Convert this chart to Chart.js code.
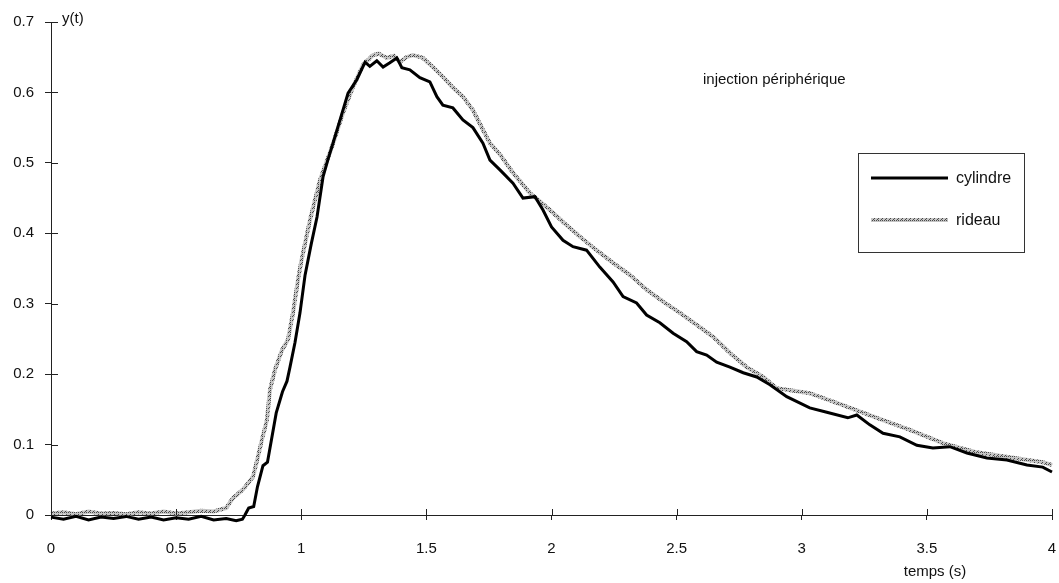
<!DOCTYPE html>
<html lang="fr">
<head>
<meta charset="UTF-8">
<title>injection périphérique</title>
<script src="https://cdn.jsdelivr.net/npm/chart.js"></script>
<style>
  * { margin: 0; padding: 0; }
  body { background: #fff; width: 1059px; height: 583px; overflow: hidden; }
  #wrap { position: relative; width: 1059px; height: 583px; }
</style>
</head>
<body>
<div id="wrap"><canvas id="chart" width="1059" height="583"></canvas></div>
<script>
// valeurs
const tCylindre = [0, 0.05, 0.1, 0.15, 0.2, 0.25, 0.3, 0.35, 0.4, 0.45, 0.5, 0.55, 0.6, 0.65, 0.7, 0.74, 0.765, 0.775, 0.79, 0.81, 0.825, 0.847, 0.865, 0.9, 0.925, 0.943, 0.955, 0.975, 0.995, 1.015, 1.04, 1.063, 1.087, 1.107, 1.127, 1.155, 1.187, 1.222, 1.255, 1.274, 1.302, 1.327, 1.354, 1.382, 1.402, 1.434, 1.474, 1.514, 1.542, 1.566, 1.606, 1.646, 1.686, 1.726, 1.754, 1.794, 1.846, 1.886, 1.934, 1.966, 2.0, 2.046, 2.086, 2.14, 2.193, 2.246, 2.286, 2.34, 2.38, 2.433, 2.486, 2.54, 2.58, 2.62, 2.66, 2.713, 2.766, 2.82, 2.873, 2.94, 3.032, 3.1, 3.184, 3.22, 3.272, 3.325, 3.392, 3.46, 3.524, 3.592, 3.66, 3.74, 3.82, 3.9, 3.963, 4.0];
const vCylindre = [-0.003, -0.006, -0.002, -0.007, -0.003, -0.005, -0.002, -0.006, -0.003, -0.007, -0.004, -0.006, -0.002, -0.007, -0.005, -0.008, -0.006, 0.0, 0.01, 0.012, 0.04, 0.07, 0.075, 0.145, 0.175, 0.19, 0.21, 0.245, 0.287, 0.34, 0.385, 0.423, 0.48, 0.505, 0.528, 0.561, 0.599, 0.618, 0.643, 0.637, 0.645, 0.636, 0.642, 0.649, 0.635, 0.632, 0.621, 0.615, 0.594, 0.582, 0.578, 0.561, 0.55, 0.528, 0.504, 0.49, 0.471, 0.45, 0.452, 0.433, 0.409, 0.39, 0.381, 0.376, 0.352, 0.331, 0.31, 0.301, 0.284, 0.273, 0.258, 0.246, 0.232, 0.227, 0.217, 0.21, 0.202, 0.196, 0.185, 0.168, 0.152, 0.146, 0.138, 0.142, 0.128, 0.116, 0.111, 0.099, 0.095, 0.097, 0.088, 0.081, 0.078, 0.071, 0.068, 0.061];

const tRideau = [0, 0.05, 0.1, 0.15, 0.2, 0.25, 0.3, 0.35, 0.4, 0.45, 0.5, 0.55, 0.6, 0.65, 0.7, 0.727, 0.767, 0.807, 0.825, 0.843, 0.863, 0.875, 0.895, 0.923, 0.947, 0.967, 0.987, 1.0, 1.035, 1.075, 1.123, 1.167, 1.207, 1.247, 1.287, 1.31, 1.342, 1.37, 1.394, 1.42, 1.446, 1.486, 1.526, 1.566, 1.606, 1.646, 1.686, 1.726, 1.754, 1.794, 1.846, 1.914, 1.994, 2.046, 2.114, 2.18, 2.246, 2.313, 2.38, 2.446, 2.513, 2.58, 2.646, 2.713, 2.78, 2.846, 2.9, 3.032, 3.164, 3.3, 3.432, 3.564, 3.7, 3.83, 3.963, 4.0];
const vRideau = [0.002, 0.004, 0.001, 0.005, 0.002, 0.003, 0.001, 0.004, 0.002, 0.005, 0.002, 0.004, 0.006, 0.005, 0.01, 0.024, 0.036, 0.054, 0.08, 0.107, 0.135, 0.178, 0.206, 0.234, 0.249, 0.287, 0.334, 0.36, 0.419, 0.476, 0.523, 0.571, 0.608, 0.639, 0.653, 0.655, 0.649, 0.652, 0.643, 0.65, 0.653, 0.649, 0.636, 0.622, 0.607, 0.594, 0.575, 0.547, 0.528, 0.512, 0.486, 0.457, 0.433, 0.416, 0.395, 0.376, 0.358, 0.341, 0.32, 0.303, 0.287, 0.27, 0.253, 0.23, 0.21, 0.196, 0.18, 0.173, 0.156, 0.138, 0.121, 0.102, 0.089, 0.082, 0.075, 0.071];

const xTicks = [0, 0.5, 1, 1.5, 2, 2.5, 3, 3.5, 4];
const yTicks = [0, 0.1, 0.2, 0.3, 0.4, 0.5, 0.6, 0.7];
const seriesLabels = ['cylindre', 'rideau'];

const FONT = '"Liberation Sans", Arial, sans-serif';

// motif gris tramé pour la courbe "rideau"
function makeHatch(ctx) {
  const c = document.createElement('canvas');
  c.width = 4; c.height = 4;
  const g = c.getContext('2d');
  g.fillStyle = '#c4c4c4';
  g.fillRect(0, 0, 4, 4);
  g.fillStyle = '#4a4a4a';
  g.fillRect(0, 0, 1, 1); g.fillRect(2, 2, 1, 1);
  g.fillRect(2, 0, 1, 1); g.fillRect(1, 3, 1, 1);
  return ctx.createPattern(c, 'repeat');
}

const canvas = document.getElementById('chart');
const ctx = canvas.getContext('2d');
const hatch = makeHatch(ctx);

const toPts = (ts, vs) => ts.map((t, i) => ({ x: t, y: vs[i] }));

// traits des graduations à l'intérieur + textes + légende
const extras = {
  id: 'extras',
  afterDraw(chart) {
    const c = chart.ctx;
    const xs = chart.scales.x, ys = chart.scales.y;
    c.save();
    c.strokeStyle = '#222';
    c.lineWidth = 1;
    c.beginPath();
    yTicks.forEach(v => {
      const py = Math.round(ys.getPixelForValue(v)) + 0.5;
      c.moveTo(xs.left, py); c.lineTo(xs.left + 7, py);
    });
    xTicks.forEach(v => {
      const px = Math.round(xs.getPixelForValue(v)) + 0.5;
      c.moveTo(px, ys.bottom); c.lineTo(px, ys.bottom - 6);
    });
    c.stroke();

    c.fillStyle = '#111';
    c.textBaseline = 'middle';
    c.font = '15px ' + FONT;
    c.textAlign = 'left';
    c.fillText('y(t)', 62, 19);
    c.fillText('injection périphérique', 703, 80);
    c.textAlign = 'center';
    c.fillText('temps (s)', 935, 572);

    // légende
    c.strokeStyle = '#333';
    c.lineWidth = 1;
    c.strokeRect(858.5, 153.5, 166, 99);
    const rows = [178, 220];
    chart.data.datasets.forEach((ds, i) => {
      c.strokeStyle = ds.borderColor;
      c.lineWidth = ds.borderWidth;
      c.beginPath();
      c.moveTo(871, rows[i]); c.lineTo(948, rows[i]);
      c.stroke();
      c.fillStyle = '#111';
      c.textAlign = 'left';
      c.font = '16px ' + FONT;
      c.fillText(ds.label, 956, rows[i] + 1);
    });
    c.restore();
  }
};

new Chart(ctx, {
  type: 'line',
  data: {
    datasets: [
      {
        label: seriesLabels[0],
        data: toPts(tCylindre, vCylindre),
        borderColor: '#000',
        borderWidth: 3,
        pointRadius: 0,
        tension: 0,
        clip: false
      },
      {
        label: seriesLabels[1],
        data: toPts(tRideau, vRideau),
        borderColor: hatch,
        borderWidth: 4,
        pointRadius: 0,
        tension: 0,
        clip: false
      }
    ]
  },
  options: {
    responsive: false,
    animation: false,
    maintainAspectRatio: false,
    layout: { padding: { left: 0, right: 7, top: 22, bottom: 0 } },
    plugins: { legend: { display: false }, tooltip: { enabled: false } },
    scales: {
      x: {
        type: 'linear',
        min: 0, max: 4,
        afterBuildTicks: s => { s.ticks = xTicks.map(v => ({ value: v })); },
        afterFit: s => { s.height = 68; s.paddingLeft = 0; s.paddingRight = 0; },
        border: { color: '#222', width: 1 },
        grid: { drawOnChartArea: false, drawTicks: true, tickLength: 5, color: '#222' },
        ticks: {
          color: '#111', padding: 20, maxRotation: 0,
          font: { family: FONT, size: 15 },
          callback: v => String(v)
        }
      },
      y: {
        type: 'linear',
        min: 0, max: 0.7,
        afterBuildTicks: s => { s.ticks = yTicks.map(v => ({ value: v })); },
        afterFit: s => { s.width = 51; s.paddingTop = 0; s.paddingBottom = 0; },
        border: { color: '#222', width: 1 },
        grid: { drawOnChartArea: false, drawTicks: true, tickLength: 6, color: '#222' },
        ticks: {
          color: '#111', padding: 11,
          font: { family: FONT, size: 15 },
          callback: v => String(Math.round(v * 10) / 10)
        }
      }
    }
  },
  plugins: [extras]
});
</script>
</body>
</html>
